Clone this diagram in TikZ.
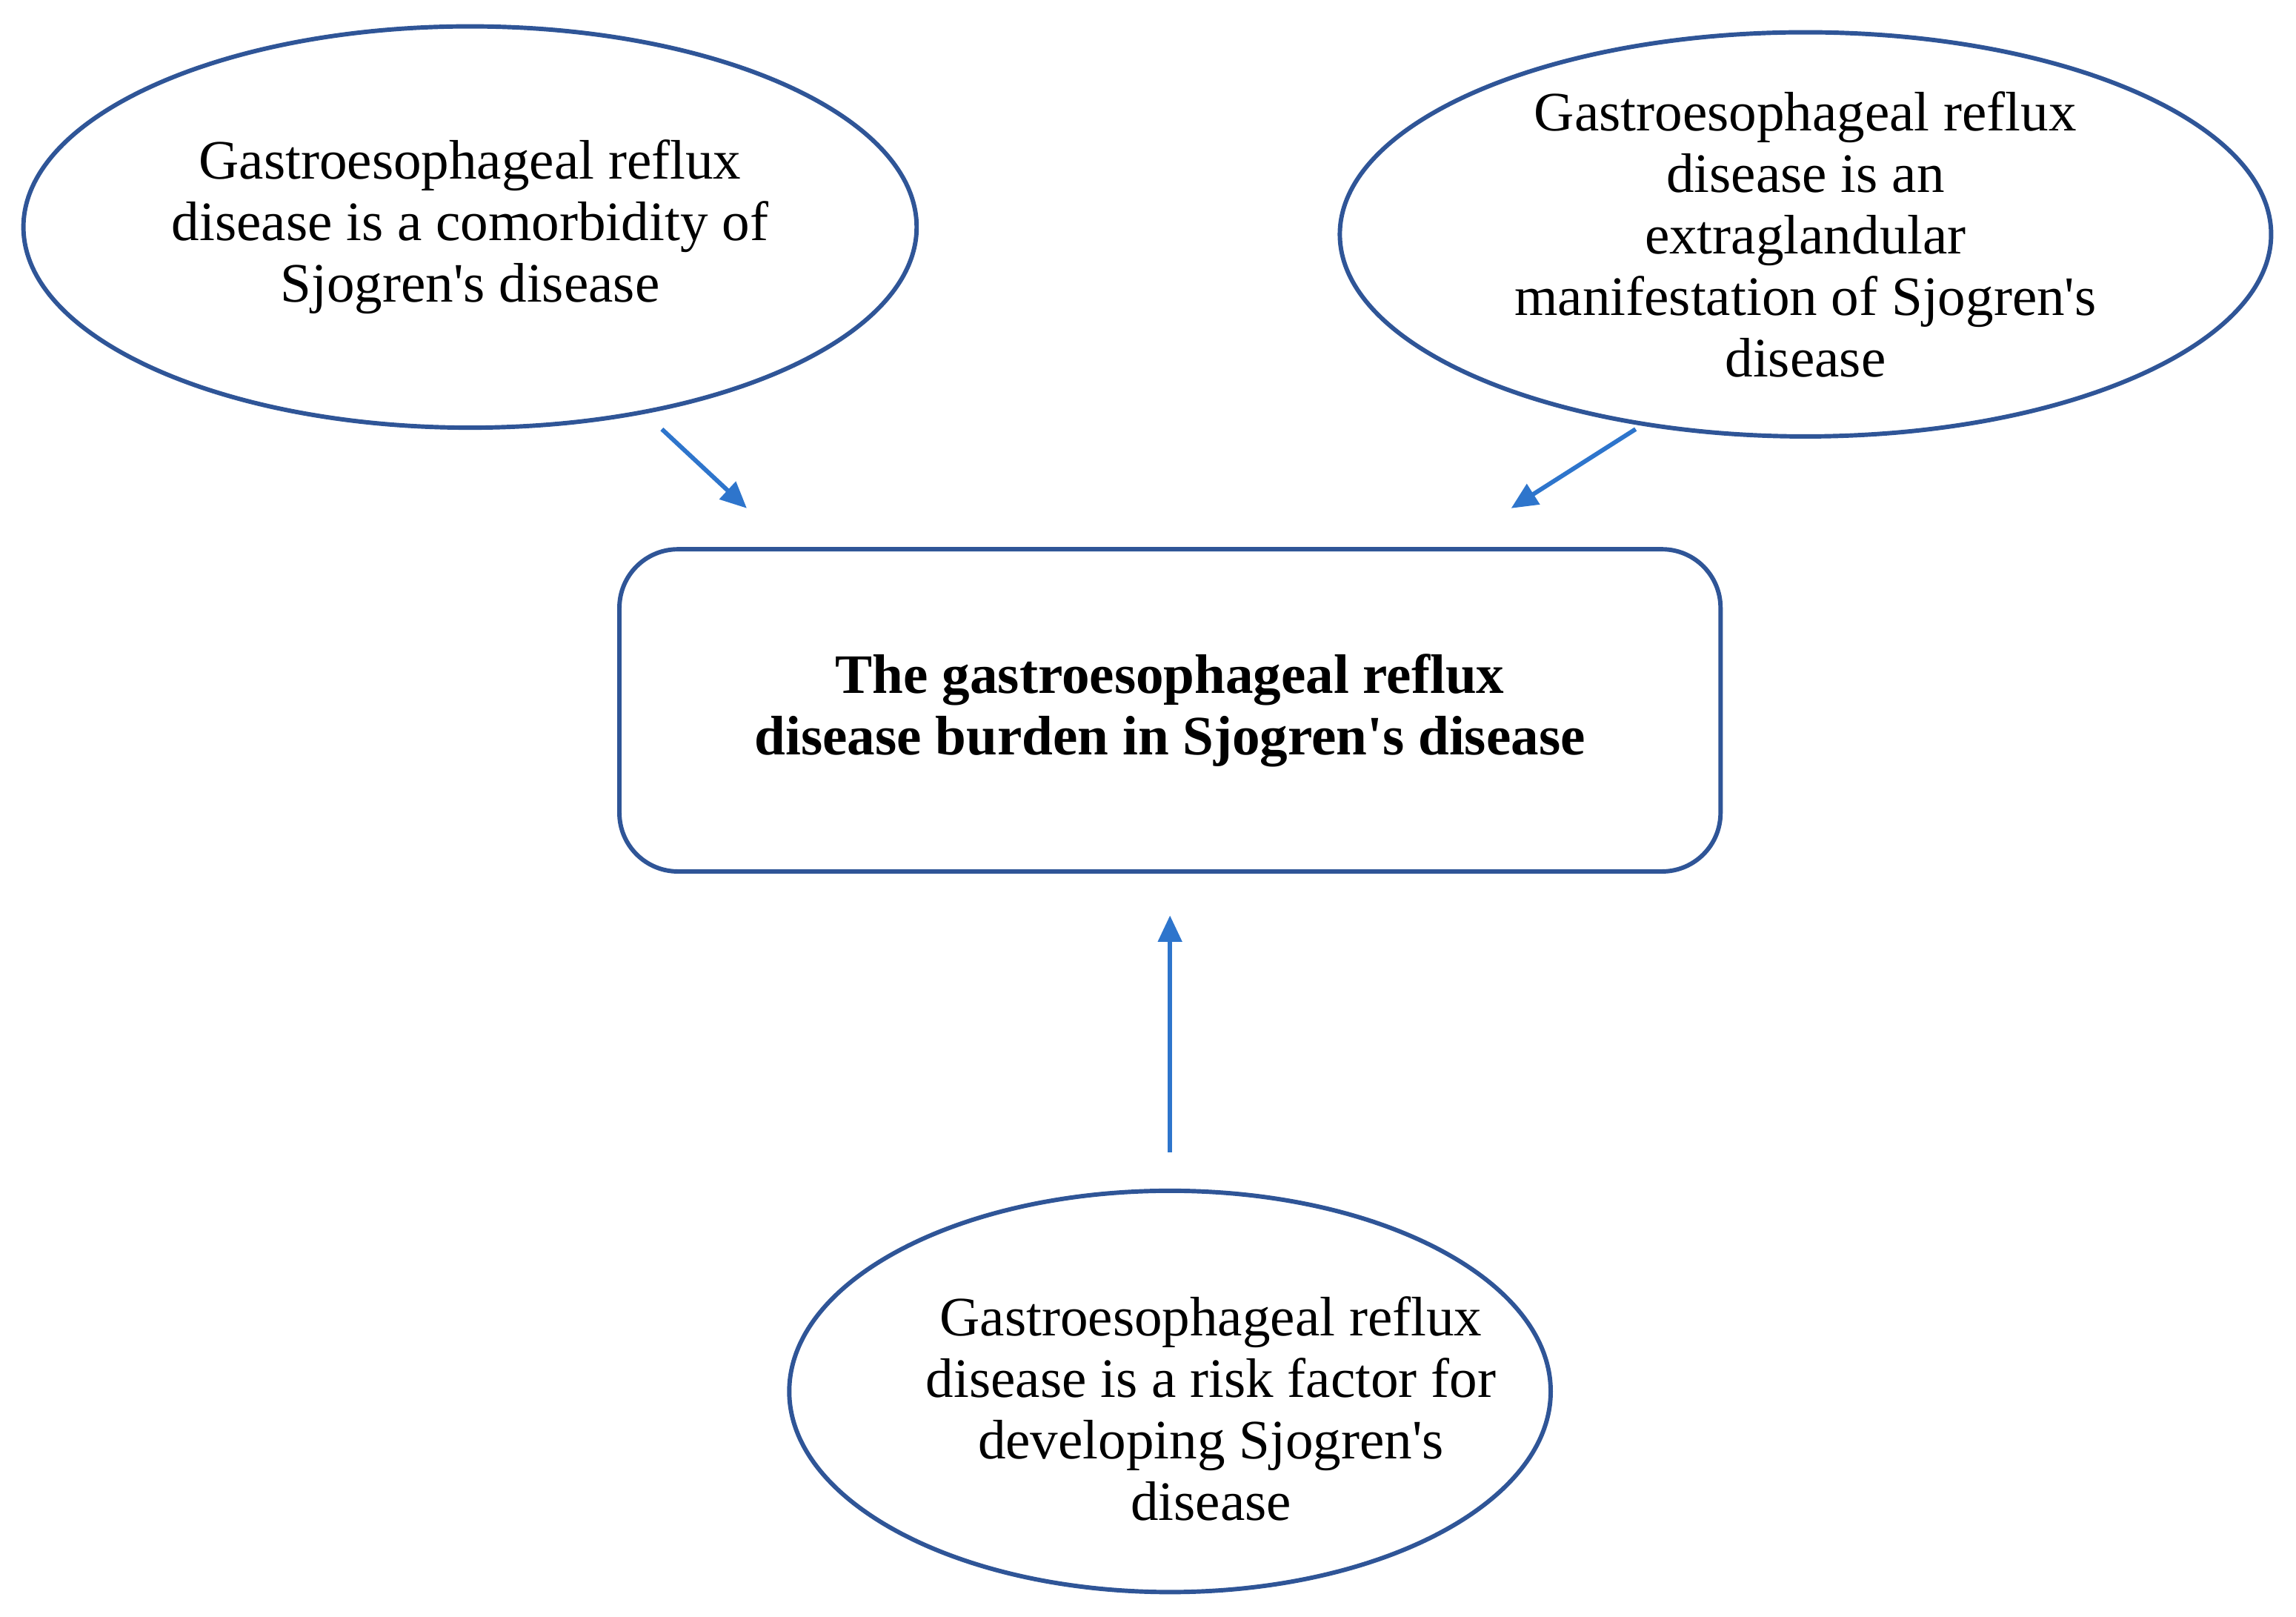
\documentclass[tikz,border=0pt]{standalone}
\usepackage{fontspec}
\setmainfont{Liberation Serif}
\usetikzlibrary{shapes.geometric,arrows.meta}
\definecolor{edgeblue}{RGB}{47,85,151}
\definecolor{arrowblue}{RGB}{46,117,204}
\newcommand{\sq}{\textquotesingle}
\begin{document}
\begin{tikzpicture}[x=1pt,y=1pt]
    \tikzstyle{every node}+=[font=\fontsize{38}{42}\selectfont, align=center]
    \tikzstyle{bubble}=[draw=edgeblue, line width=3pt, ellipse, inner sep=0pt]
    \tikzstyle{link}=[draw=arrowblue, line width=3pt, -{Triangle[length=18pt,width=16pt]}]
    \useasboundingbox (0,0) rectangle (1568,-1104);
    \node [bubble, minimum width=610, minimum height=274] (comorb) at (321,-155) {Gastroesophageal reflux\\disease is a comorbidity of\\Sjogren\sq s disease};
    \node [bubble, minimum width=636, minimum height=274] (extra) at (1233,-160) {Gastroesophageal reflux\\disease is an\\extraglandular\\manifestation of Sjogren\sq s\\disease};
    \node [bubble, minimum width=520, minimum height=274] (risk) at (799,-950) {};
    \node (risktext) at (827,-962) {Gastroesophageal reflux\\disease is a risk factor for\\developing Sjogren\sq s\\disease};
    \node [draw=edgeblue, line width=3pt, rounded corners=40pt, minimum width=752, minimum height=220, font=\fontsize{38}{42}\selectfont\bfseries] (burden) at (799,-485) {The gastroesophageal reflux\\disease burden in Sjogren\sq s disease};
    \coordinate (a1s) at (452,-293);
    \coordinate (a1e) at (510,-347);
    \coordinate (a2s) at (1117,-293);
    \coordinate (a2e) at (1032,-347);
    \coordinate (a3s) at (799,-787);
    \coordinate (a3e) at (799,-625);
    \draw [link] (a1s) -- (a1e);
    \draw [link] (a2s) -- (a2e);
    \draw [link] (a3s) -- (a3e);
\end{tikzpicture}
\end{document}
